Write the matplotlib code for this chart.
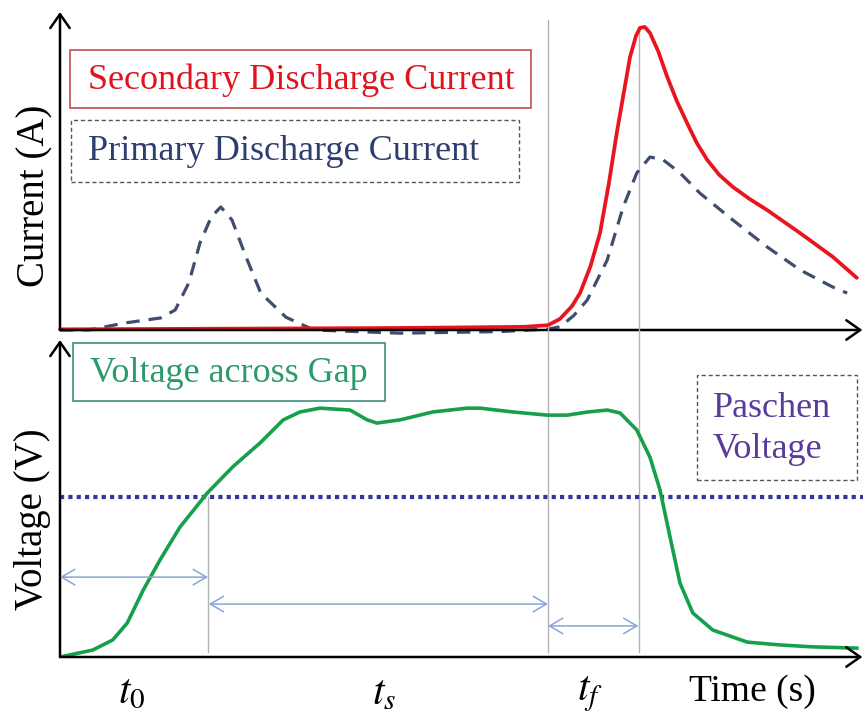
import matplotlib
matplotlib.use('Agg')
import matplotlib.pyplot as plt
from matplotlib.patches import Rectangle

plt.rcParams['font.family'] = ['Liberation Serif', 'DejaVu Serif']
plt.rcParams['mathtext.fontset'] = 'stix'

# time axis in arbitrary units (0..100), amplitudes in % of axis height
t_sec = [0, 10, 20, 30, 40, 50, 58, 61, 62.5, 64, 65, 66.3, 67.5, 68.6, 69.6, 70.5,
         71.25, 72, 72.5, 73.1, 73.75, 74.8, 75.9, 77.1, 78.4, 79.6, 80.9, 82.4,
         84.1, 86.2, 88.4, 92.5, 96.6, 99.6]
i_sec = [0.2, 0.3, 0.4, 0.5, 0.6, 0.8, 1.0, 1.5, 3.5, 7.5, 11.6, 20, 30.5, 46, 62, 75,
         85.8, 92.5, 95, 95.3, 93.4, 87.5, 79.6, 72, 65, 58.8, 53.5, 48.8,
         45, 41.2, 37.7, 30.5, 23, 16.4]

t_pri = [0, 3.6, 8.1, 12.6, 14.4, 16.1, 17.5, 18.9, 20.1, 21.5, 23.25, 25.1, 28.25,
         31.75, 42.5, 55, 61, 62.5, 64.2, 65.9, 68.4, 70.4, 72.1, 73.75, 75.4, 77.5,
         80, 84.1, 88.4, 92.5, 96.6, 98.4]
i_pri = [0, 0, 2.2, 3.8, 6.3, 14.8, 27.4, 35.5, 38.7, 34.6, 23, 11.6, 4,
         0, -1.0, -0.5, 0.3, 1, 4.5, 9.4, 22, 38.7, 49.4, 54.4, 53.5, 49.4,
         43, 34.6, 26.1, 18.9, 13.5, 11.6]

t_gap = [0, 4.1, 6.6, 8.4, 10.4, 12.5, 15, 18.4, 21.6, 25, 27.9, 30, 32.5, 36.25,
         38.4, 39.6, 42.5, 46.6, 50.9, 52.5, 56.6, 60.9, 63.4, 66, 68.4, 70, 72.1,
         73.75, 75, 76.25, 77.5, 79.1, 81.6, 85.9, 90, 94.1, 99.6]
v_gap = [0, 2.2, 5.4, 10.7, 21.1, 30.6, 41, 51.7, 60, 67.5, 74.8, 77.3, 78.5, 77.9,
         74.8, 73.8, 74.8, 77.3, 78.5, 78.5, 77.3, 76.3, 76.3, 77.3, 77.9, 77, 71.6,
         63, 52.7, 37.9, 23.3, 13.9, 8.5, 4.7, 3.8, 3.2, 2.8]

v_paschen = 50.5
t_breakdown = 18.5   # voltage reaches Paschen level
t_secondary = 61.0   # secondary discharge starts
t_peak = 72.4        # peak of secondary current

W, H = 863, 717


def fx(x):
    return x / W


def fy(y):
    return 1 - y / H


fig = plt.figure(figsize=(W / 100, H / 100), dpi=100)
ax1 = fig.add_axes([fx(60), fy(330), 800 / W, 318 / H])
ax2 = fig.add_axes([fx(60), fy(657), 800 / W, 317 / H])

for ax in (ax1, ax2):
    ax.set_xlim(0, 100)
    ax.set_ylim(0, 100)
    ax.axis('off')
    # axis arrows
    ax.annotate('', xy=(1.003, 0), xytext=(0, 0), xycoords='axes fraction',
                arrowprops=dict(arrowstyle='->,head_length=0.5,head_width=0.35',
                                lw=1.8, color='black', mutation_scale=20,
                                shrinkA=0, shrinkB=0))
    ax.annotate('', xy=(0, 1.0), xytext=(0, 0), xycoords='axes fraction',
                arrowprops=dict(arrowstyle='->,head_length=0.5,head_width=0.35',
                                lw=1.8, color='black', mutation_scale=20,
                                shrinkA=0, shrinkB=0))

grey = '#b4b4b4'
# vertical guide lines
ax1.axvline(t_secondary, ymin=0, ymax=0.975, color=grey, lw=1)
ax1.axvline(t_peak, ymin=0, ymax=0.94, color=grey, lw=1)
ax2.axvline(t_secondary, ymin=0.015, ymax=1.04, color=grey, lw=1, clip_on=False)
ax2.axvline(t_peak, ymin=0.015, ymax=1.04, color=grey, lw=1, clip_on=False)
ax2.plot([t_breakdown, t_breakdown], [1.6, v_paschen], color=grey, lw=1)

# currents
ax1.plot(t_pri, i_pri, color='#3f4d6e', lw=2.3, dashes=(4.2, 2.8), clip_on=False,
         dash_capstyle='butt')
ax1.plot(t_sec, i_sec, color='#e8141e', lw=2.7, clip_on=False,
         solid_joinstyle='round', solid_capstyle='round')

# voltage
ax2.axhline(v_paschen, color='#33339a', lw=3, dashes=(1, 1), xmin=0, xmax=1.004,
            clip_on=False)
ax2.plot(t_gap, v_gap, color='#17a04c', lw=2.6, solid_joinstyle='round')

# time interval arrows
arrow_c = '#86a6d6'
for (a, b, v) in [(0, t_breakdown, 25.2), (t_breakdown + 0.1, t_secondary, 16.7),
                  (t_secondary, t_peak - 0.1, 9.8)]:
    ax2.annotate('', xy=(b, v), xytext=(a, v),
                 arrowprops=dict(arrowstyle='<->,head_length=0.6,head_width=0.35',
                                 lw=1.1, color=arrow_c, mutation_scale=16,
                                 shrinkA=0, shrinkB=0))

# legend-like boxes
fs = 26
fig.add_artist(Rectangle((fx(70), fy(108)), (531 - 70) / W, (108 - 50) / H,
                         transform=fig.transFigure, fill=False,
                         edgecolor='#c0504d', lw=1.2))
fig.text(fx(88), fy(80), 'Secondary Discharge Current', color='#e0141e',
         fontsize=fs, va='center', ha='left')
fig.add_artist(Rectangle((fx(71), fy(182)), (519 - 71) / W, (182 - 120) / H,
                         transform=fig.transFigure, fill=False,
                         edgecolor='#555555', lw=1.0, linestyle=(0, (3, 2))))
fig.text(fx(88), fy(152), 'Primary Discharge Current', color='#2e3e6e',
         fontsize=fs, va='center', ha='left')
fig.add_artist(Rectangle((fx(73), fy(401)), (385 - 73) / W, (401 - 343) / H,
                         transform=fig.transFigure, fill=False,
                         edgecolor='#3f8f7f', lw=1.2))
fig.text(fx(90), fy(373), 'Voltage across Gap', color='#2a9a6a',
         fontsize=fs, va='center', ha='left')
fig.add_artist(Rectangle((fx(697), fy(480)), (857 - 697) / W, (480 - 375) / H,
                         transform=fig.transFigure, fill=False,
                         edgecolor='#555555', lw=1.0, linestyle=(0, (3, 2))))
fig.text(fx(713), fy(408), 'Paschen', color='#5a3a9a',
         fontsize=fs, va='center', ha='left')
fig.text(fx(713), fy(449), 'Voltage', color='#5a3a9a',
         fontsize=fs, va='center', ha='left')

# axis labels
fig.text(fx(35), fy(196), 'Current (A)', rotation=90, fontsize=28,
         va='center', ha='center')
fig.text(fx(33), fy(519), 'Voltage (V)', rotation=90, fontsize=28,
         va='center', ha='center')
fig.text(fx(752), fy(692), 'Time (s)', fontsize=27, va='center', ha='center')
fig.text(fx(132), fy(692), r'$t_0$', fontsize=30, va='center', ha='center')
fig.text(fx(384), fy(694), r'$t_s$', fontsize=30, va='center', ha='center')
fig.text(fx(590), fy(694), r'$t_f$', fontsize=30, va='center', ha='center')

fig.savefig('out.png', dpi=100)
